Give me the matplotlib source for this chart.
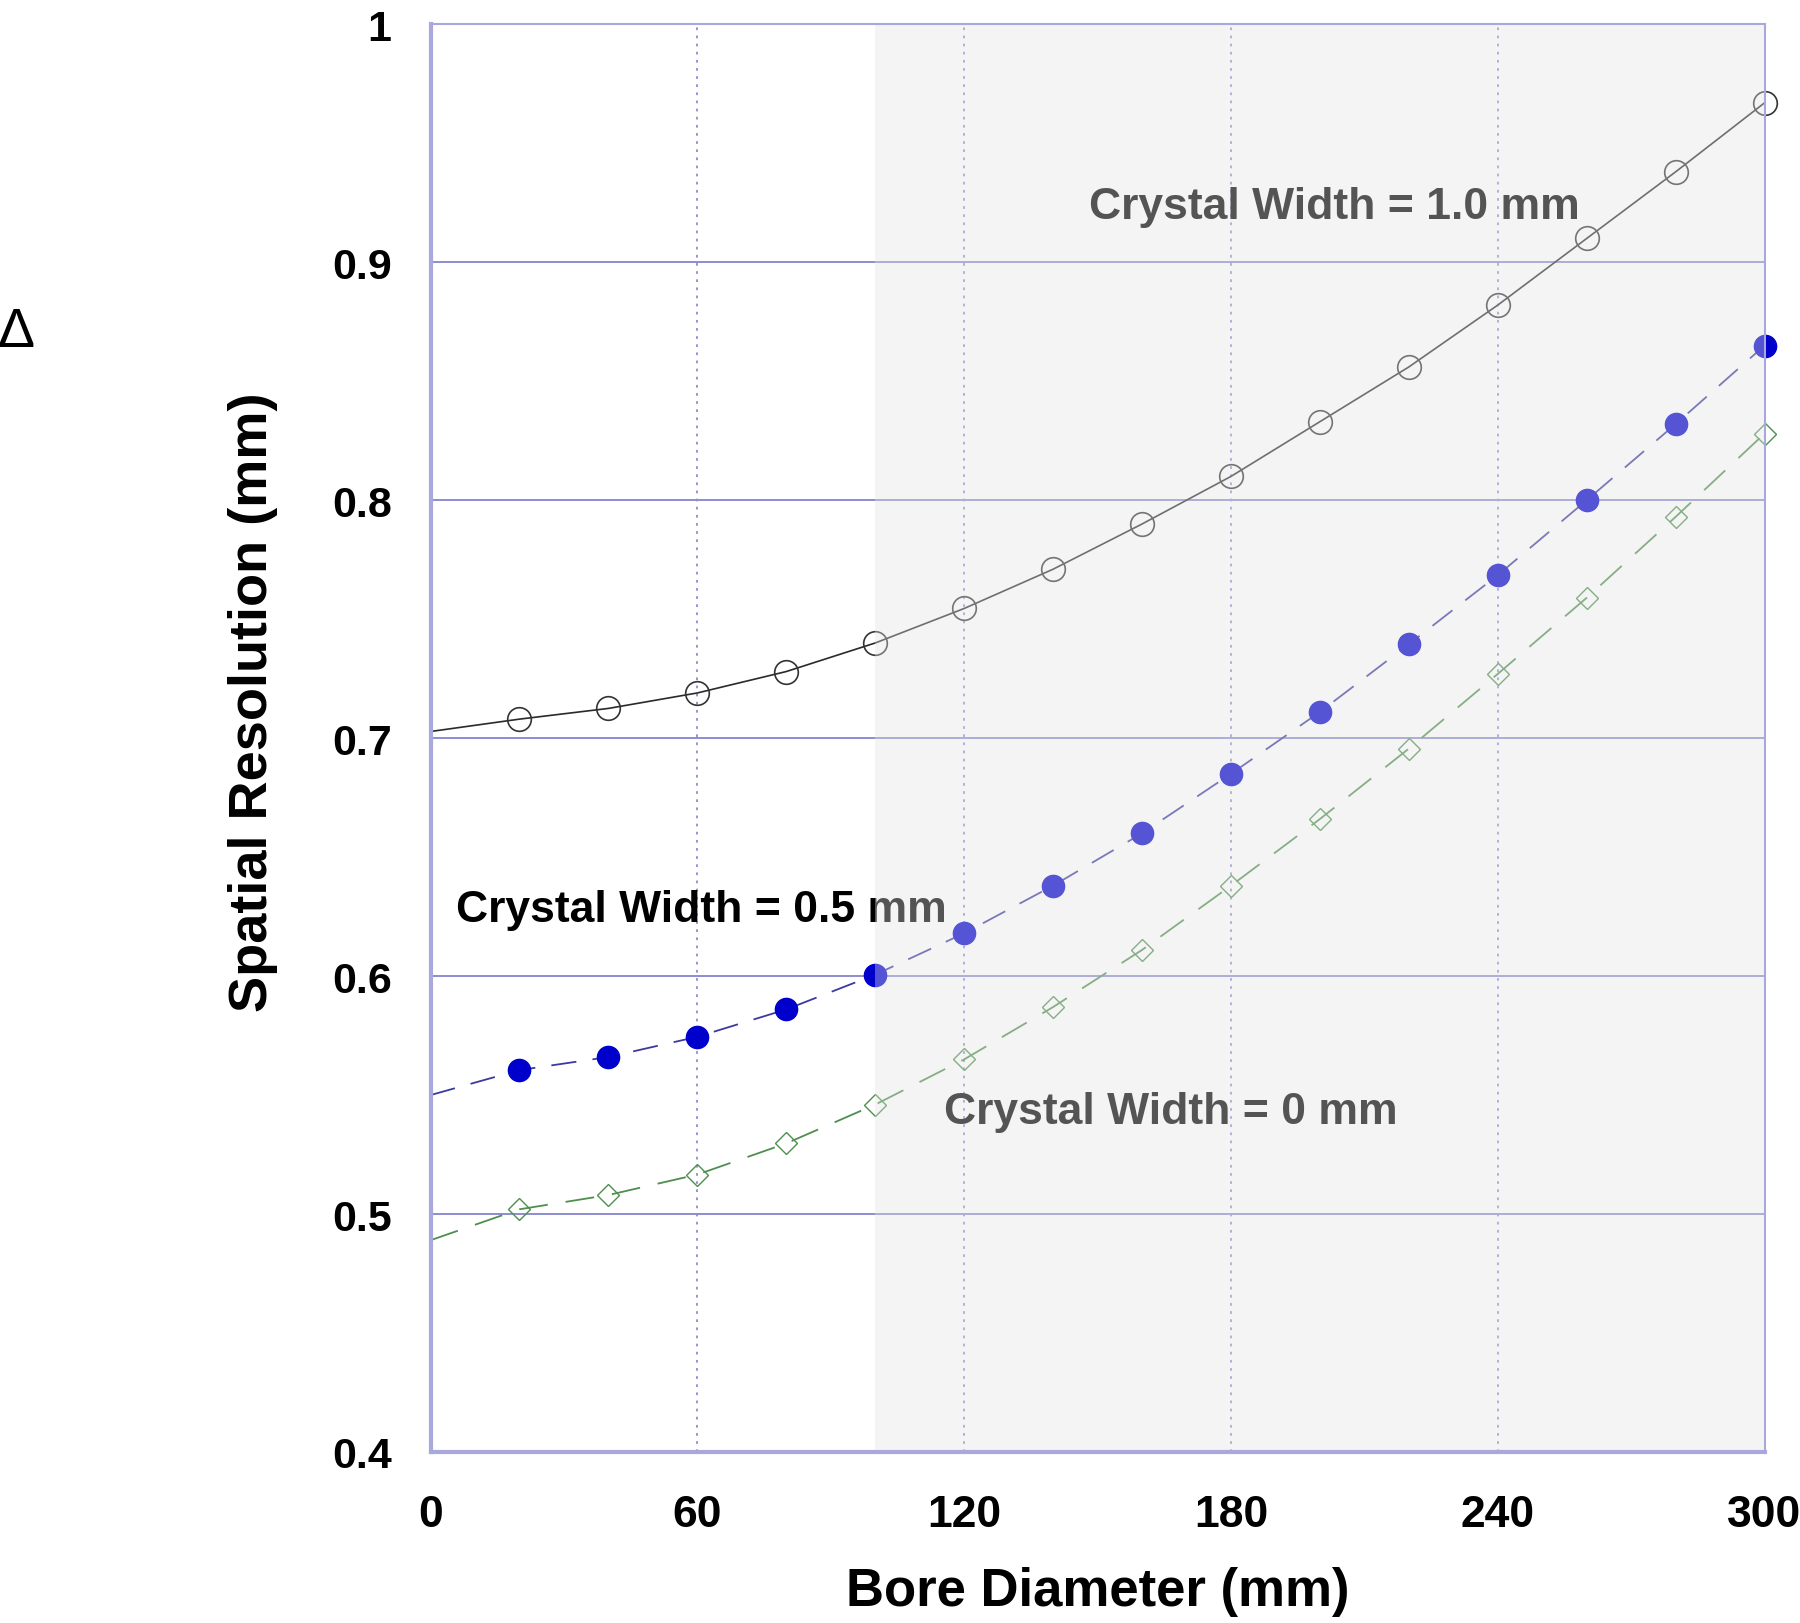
import matplotlib
matplotlib.use("Agg")
import matplotlib.pyplot as plt
from matplotlib import font_manager as fm

# ---- data ----
bore = [20, 40, 60, 80, 100, 120, 140, 160, 180, 200, 220, 240, 260, 280, 300]
res_w10 = [0.708, 0.7125, 0.719, 0.728, 0.740, 0.7545, 0.771, 0.790, 0.810,
           0.833, 0.856, 0.882, 0.910, 0.938, 0.967]
res_w05 = [0.5605, 0.566, 0.5745, 0.586, 0.6006, 0.618, 0.638, 0.660, 0.685,
           0.711, 0.7395, 0.7685, 0.800, 0.832, 0.865]
res_w00 = [0.502, 0.508, 0.5166, 0.5297, 0.546, 0.565, 0.587, 0.611, 0.638,
           0.666, 0.6956, 0.727, 0.759, 0.793, 0.828]
# curve values at bore = 0
start_w10, start_w05, start_w00 = 0.7028, 0.550, 0.489

xticks = [0, 60, 120, 180, 240, 300]
yticks = [0.4, 0.5, 0.6, 0.7, 0.8, 0.9, 1.0]
ytick_labels = ["0.4", "0.5", "0.6", "0.7", "0.8", "0.9", "1"]
shade_range = (100, 300)

names = {f.name for f in fm.fontManager.ttflist}
base = "Liberation Sans" if "Liberation Sans" in names else "DejaVu Sans"
plt.rcParams["font.family"] = [base, "DejaVu Sans"]

fig = plt.figure(figsize=(18, 16.24), dpi=100)
ax = fig.add_axes([0.2392, 0.1053, 0.9803 - 0.2392, 0.9844 - 0.1053])
ax.set_xlim(0, 300)
ax.set_ylim(0.4, 1.0)

grid_c = "#8c8cd0"
for y in [0.5, 0.6, 0.7, 0.8, 0.9]:
    ax.axhline(y, color=grid_c, lw=1.4, zorder=1)
for x in [60, 120, 180, 240]:
    ax.axvline(x, color=grid_c, lw=1.3, ls=(0, (1.5, 3)), zorder=1)

ax.plot([0] + bore, [start_w10] + res_w10, color="#2a2a2a", lw=1.2, zorder=3)
ax.plot(bore, res_w10, ls="none", marker="o", ms=17, mfc="none", mec="#333333",
        mew=1.2, zorder=4, clip_on=False)

ax.plot([0] + bore, [start_w05] + res_w05, color="#3a3aa0", lw=1.3,
        ls=(0, (14, 9)), zorder=3)
ax.plot(bore, res_w05, ls="none", marker="o", ms=16, mfc="#0000cc", mec="#0000cc",
        zorder=4, clip_on=False)

ax.plot([0] + bore, [start_w00] + res_w00, color="#4e8f4e", lw=1.3,
        ls=(0, (16, 10)), zorder=3)
ax.plot(bore, res_w00, ls="none", marker="D", ms=11, mfc="none", mec="#4e8f4e",
        mew=1.0, zorder=4, clip_on=False)

tk = dict(fontsize=32, fontweight="bold", color="black", zorder=5)
ax.text(148, 0.9233, "Crystal Width = 1.0 mm", ha="left", va="center", **tk)
ax.text(5.7, 0.628, "Crystal Width = 0.5 mm", ha="left", va="center", **tk)
ax.text(115.4, 0.5432, "Crystal Width = 0 mm", ha="left", va="center", **tk)

# translucent shading of the right region (drawn over everything inside axes)
ax.axvspan(*shade_range, color=(0.886, 0.886, 0.886), alpha=0.376, lw=0, zorder=10)

for side, s in ax.spines.items():
    s.set_zorder(12)
    s.set_color("#a8a8dc")
    s.set_linewidth(1.5)
ax.spines["left"].set_linewidth(3)
ax.spines["bottom"].set_linewidth(3)

ax.set_xticks(xticks)
ax.set_xticklabels([str(v) for v in xticks], fontsize=32, fontweight="bold")
ax.set_yticks(yticks)
ax.set_yticklabels(ytick_labels, fontsize=31, fontweight="bold")
ax.tick_params(length=0)
ax.tick_params(axis="y", pad=28)
ax.tick_params(axis="x", pad=30)

ax.set_xlabel("Bore Diameter (mm)", fontsize=38, fontweight="bold")
ax.set_ylabel("Spatial Resolution (mm)", fontsize=39, fontweight="bold")
ax.xaxis.label.set_va("center")
ax.yaxis.label.set_va("center")
ax.yaxis.set_label_coords((252.6 - 430.5) / (1764.5 - 430.5), 0.526)
ax.xaxis.set_label_coords(0.5, -(1592 - 1453) / (1453 - 25.3))

fig.text(16 / 1800, 1 - 333 / 1624, "Δ", fontsize=40, ha="center", va="center")

fig.savefig("out.png", dpi=100)
